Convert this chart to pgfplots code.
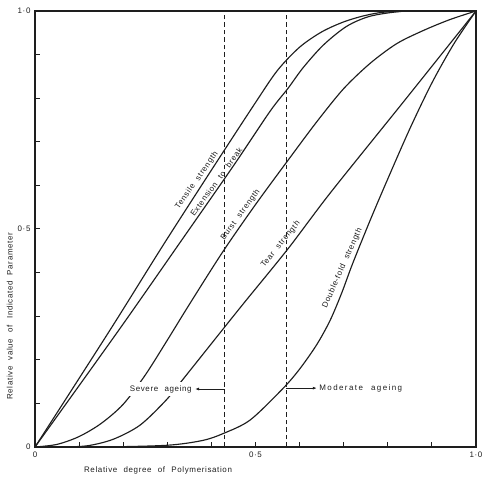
\documentclass[border=0pt]{standalone}
\usepackage{fontspec}
\setmainfont{Liberation Sans}[LetterSpace=8,WordSpace=2.2]
\usepackage{pgfplots}
\pgfplotsset{compat=1.18}
\usetikzlibrary{arrows.meta}

\definecolor{ink}{HTML}{1E1E1E}

\begin{document}
\begin{tikzpicture}[
  curve/.style={ink, line width=1.15bp, smooth, tension=0.5, mark=none},
  limit/.style={ink, sharp plot, mark=none, line width=0.8bp, dash pattern=on 4.5bp off 3bp},
]
\begin{axis}[
  at={(0,0)}, anchor=south west,
  scale only axis, width=441bp, height=436bp,
  xmin=0, xmax=1, ymin=0, ymax=1,
  clip=false,
  axis line style={ink, line width=1.4bp},
  tick align=inside, xtick pos=bottom, ytick pos=left,
  major tick length=5bp,
  tick style={ink, line width=1bp},
  xtick={0,0.1,0.2,0.3,0.4,0.5,0.6,0.7,0.8,0.9,1},
  ytick={0,0.1,0.2,0.3,0.4,0.5,0.6,0.7,0.8,0.9,1},
  xticklabels={0,,,,,0·5,,,,,1·0},
  yticklabels={0,,,,,0·5,,,,,1·0},
  ticklabel style={font=\fontsize{8}{9}\selectfont, text=ink},
  xticklabel style={yshift=-1bp},
  yticklabel style={xshift=-1bp},
  nodes={font=\fontsize{8}{9}\selectfont, text=ink},
]
% Tensile strength
\addplot[curve] coordinates {(0,0) (0.17,0.268) (0.29,0.462) (0.40,0.635) (0.50,0.79)
  (0.55,0.864) (0.60,0.917) (0.65,0.952) (0.70,0.975) (0.75,0.99) (0.80,0.998)
  (0.9,1) (1,1)};
% Extension to break
\addplot[curve] coordinates {(0,0) (0.19,0.268) (0.333,0.475) (0.45,0.645) (0.533,0.77)
  (0.574,0.823) (0.608,0.87) (0.654,0.922) (0.707,0.965) (0.76,0.988)
  (0.83,0.999) (0.9,1) (1,1)};
% Burst strength
\addplot[curve] coordinates {(0,0) (0.05,0.006) (0.1,0.024) (0.15,0.054) (0.2,0.098)
  (0.25,0.165) (0.3,0.245) (0.35,0.327) (0.426,0.448) (0.5,0.556) (0.574,0.658)
  (0.639,0.746) (0.70,0.822) (0.76,0.88) (0.82,0.925) (0.88,0.955)
  (0.94,0.98) (1,1)};
% Tear strength
\addplot[curve] coordinates {(0,0) (0.06,0) (0.12,0.003) (0.178,0.018) (0.238,0.05)
  (0.295,0.105) (0.329,0.147) (0.426,0.27) (0.476,0.333) (0.574,0.455)
  (0.669,0.582) (0.839,0.796) (1,1)};
% Double-fold strength
\addplot[curve] coordinates {(0,0) (0.15,0) (0.3,0.004) (0.38,0.015) (0.427,0.031)
  (0.488,0.062) (0.563,0.135) (0.601,0.18) (0.639,0.235) (0.669,0.29)
  (0.695,0.352) (0.72,0.42) (0.76,0.52) (0.80,0.615) (0.85,0.73)
  (0.90,0.835) (0.95,0.925) (1,1)};

% Ageing limits
\addplot[limit] coordinates {(0.43,0) (0.43,1)};
\addplot[limit] coordinates {(0.57,0) (0.57,1)};

% Curve labels
\node[rotate=55] at (axis cs:0.367,0.611) {Tensile strength};
\node[rotate=54] at (axis cs:0.411,0.608) {Extension to break};
\node[rotate=54] at (axis cs:0.466,0.532) {Burst strength};
\node[rotate=51] at (axis cs:0.557,0.465) {Tear strength};
\node[rotate=66] at (axis cs:0.697,0.410) {Double-fold strength};

% Ageing annotations
\draw[ink, line width=0.8bp, -{Latex[length=4bp,width=3bp]}] (axis cs:0.43,0.133) -- (axis cs:0.363,0.133);
\node[anchor=east, fill=white, inner xsep=1bp, inner ysep=3bp] at (axis cs:0.358,0.133) {Severe ageing};
\draw[ink, line width=0.8bp, -{Latex[length=4bp,width=3bp]}] (axis cs:0.57,0.135) -- (axis cs:0.639,0.135);
\node[anchor=west, inner xsep=1bp] at (axis cs:0.642,0.135) {\addfontfeature{LetterSpace=18}Moderate ageing};

% Axis titles
\node at (axis cs:0.279,-0.053) {Relative degree of Polymerisation};
\node[rotate=90] at (axis cs:-0.057,0.30) {Relative value of Indicated Parameter};
\end{axis}
\pgfresetboundingbox
\useasboundingbox (-35bp,-31bp) rectangle (455bp,447bp);
\end{tikzpicture}
\end{document}
